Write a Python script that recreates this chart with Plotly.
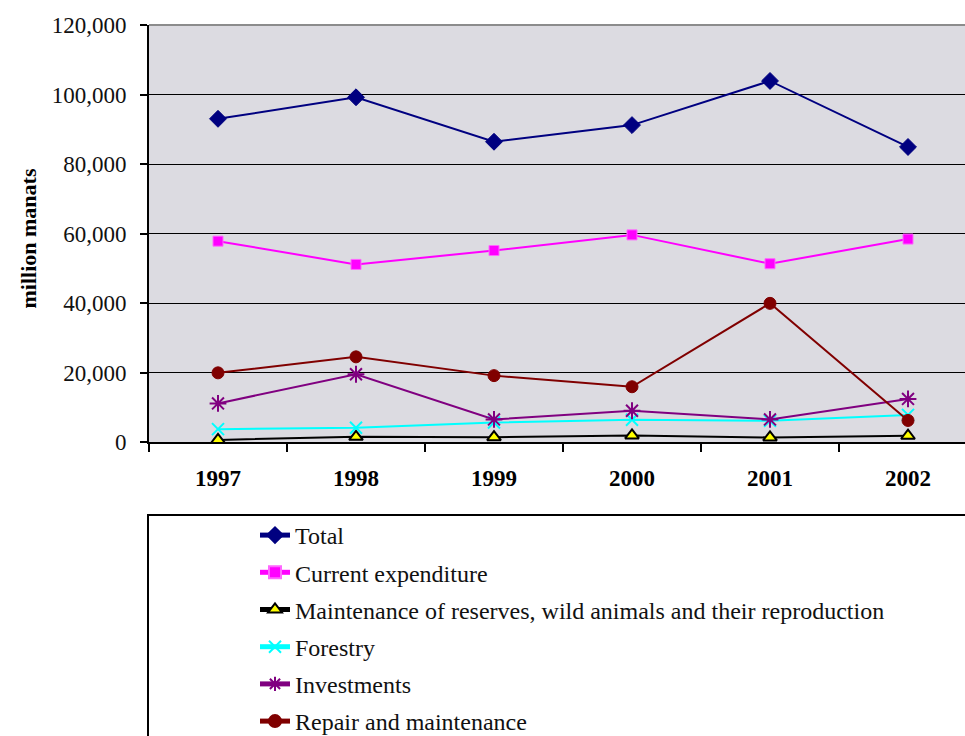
import plotly.graph_objects as go

years = ["1997", "1998", "1999", "2000", "2001", "2002"]

total = [93000, 99200, 86400, 91200, 103900, 84900]
current_expenditure = [57800, 51100, 55100, 59600, 51300, 58400]
maintenance_reserves = [600, 1500, 1400, 1900, 1300, 1800]
forestry = [3700, 4100, 5600, 6400, 6100, 7800]
investments = [11100, 19500, 6500, 9000, 6500, 12400]
repair_maintenance = [19900, 24500, 19100, 15900, 39900, 6200]

y_ticks = [0, 20000, 40000, 60000, 80000, 100000, 120000]

series = [
    dict(name="Total", y=total, color="#000080",
         marker=dict(symbol="diamond", size=13, color="#000080",
                     line=dict(color="#000080", width=1))),
    dict(name="Current expenditure", y=current_expenditure, color="#FF00FF",
         marker=dict(symbol="square", size=10, color="#FF00FF",
                     line=dict(color="#FF66FF", width=1))),
    dict(name="Maintenance of reserves, wild animals and their reproduction",
         y=maintenance_reserves, color="#000000",
         marker=dict(symbol="triangle-up", size=12, color="#FFFF00",
                     line=dict(color="#000000", width=2))),
    dict(name="Forestry", y=forestry, color="#00FFFF",
         marker=dict(symbol="x-thin-open", size=12, color="#00FFFF",
                     line=dict(color="#00FFFF", width=2))),
    dict(name="Investments", y=investments, color="#800080",
         marker=dict(symbol="asterisk-open", size=14, color="#800080",
                     line=dict(color="#800080", width=2))),
    dict(name="Repair and maintenance", y=repair_maintenance, color="#800000",
         marker=dict(symbol="circle", size=12, color="#800000",
                     line=dict(color="#800000", width=1))),
]

fig = go.Figure()
for s in series:
    fig.add_trace(go.Scatter(
        x=years, y=s["y"], name=s["name"], mode="lines+markers",
        legendgroup=s["name"],
        line=dict(color=s["color"], width=2),
        marker=s["marker"],
    ))

serif = "Times New Roman"

W, H = 965, 736
M_L, M_T = 149, 25
PAPER_H = H - M_T
PAPER_W = W - M_L


def px_x(x):
    return (x - M_L) / PAPER_W


def px_y(y):
    return (H - y) / PAPER_H


fig.update_layout(
    width=W, height=H,
    margin=dict(l=M_L, r=0, t=M_T, b=0, autoexpand=False),
    paper_bgcolor="white",
    plot_bgcolor="#DCDBE1",
    font=dict(family=serif, size=20, color="#111111"),
    showlegend=True,
    legend=dict(
        x=px_x(255), y=px_y(744), xanchor="left", yanchor="bottom",
        bgcolor="rgba(0,0,0,0)", borderwidth=0,
        font=dict(family=serif, size=24, color="#111111"),
        traceorder="grouped", tracegroupgap=3,
        itemsizing="constant",
    ),
    xaxis=dict(
        type="category", range=[-0.5, 5.413], automargin=False,
        showgrid=False, showline=True, linecolor="#000000", linewidth=2,
        ticks="outside", tickson="boundaries", ticklen=8, tickwidth=2,
        tickcolor="#000000", ticklabelstandoff=14,
        tickfont=dict(family=serif, size=23, color="#000000", weight="bold"),
    ),
    yaxis=dict(
        domain=[px_y(442), 1], automargin=False,
        range=[0, 120000], tickvals=y_ticks, tickformat=",",
        showgrid=True, gridcolor="#000000", gridwidth=1,
        zeroline=False, showline=True, linecolor="#000000", linewidth=2,
        ticks="outside", ticklen=7, tickwidth=2, tickcolor="#000000",
        ticklabelstandoff=9,
        tickfont=dict(family=serif, size=23, color="#111111"),
    ),
    annotations=[dict(
        text="million manats", textangle=-90,
        xref="x domain", yref="y domain", x=0, y=0.5,
        xshift=-121, yshift=-5,
        xanchor="center", yanchor="middle", showarrow=False,
        font=dict(family=serif, size=22, color="#000000", weight="bold"),
    )],
    shapes=[
        # grey frame edge along the top of the plotting area
        dict(type="line", xref="paper", yref="paper", x0=0, x1=1.02,
             y0=1, y1=1, line=dict(color="#8C8C8C", width=2)),
        # box around the legend
        dict(type="rect", xref="paper", yref="paper",
             x0=px_x(148), x1=px_x(980), y0=px_y(760), y1=px_y(515),
             line=dict(color="#000000", width=2), layer="below"),
    ],
)

fig.write_html("out.html")
